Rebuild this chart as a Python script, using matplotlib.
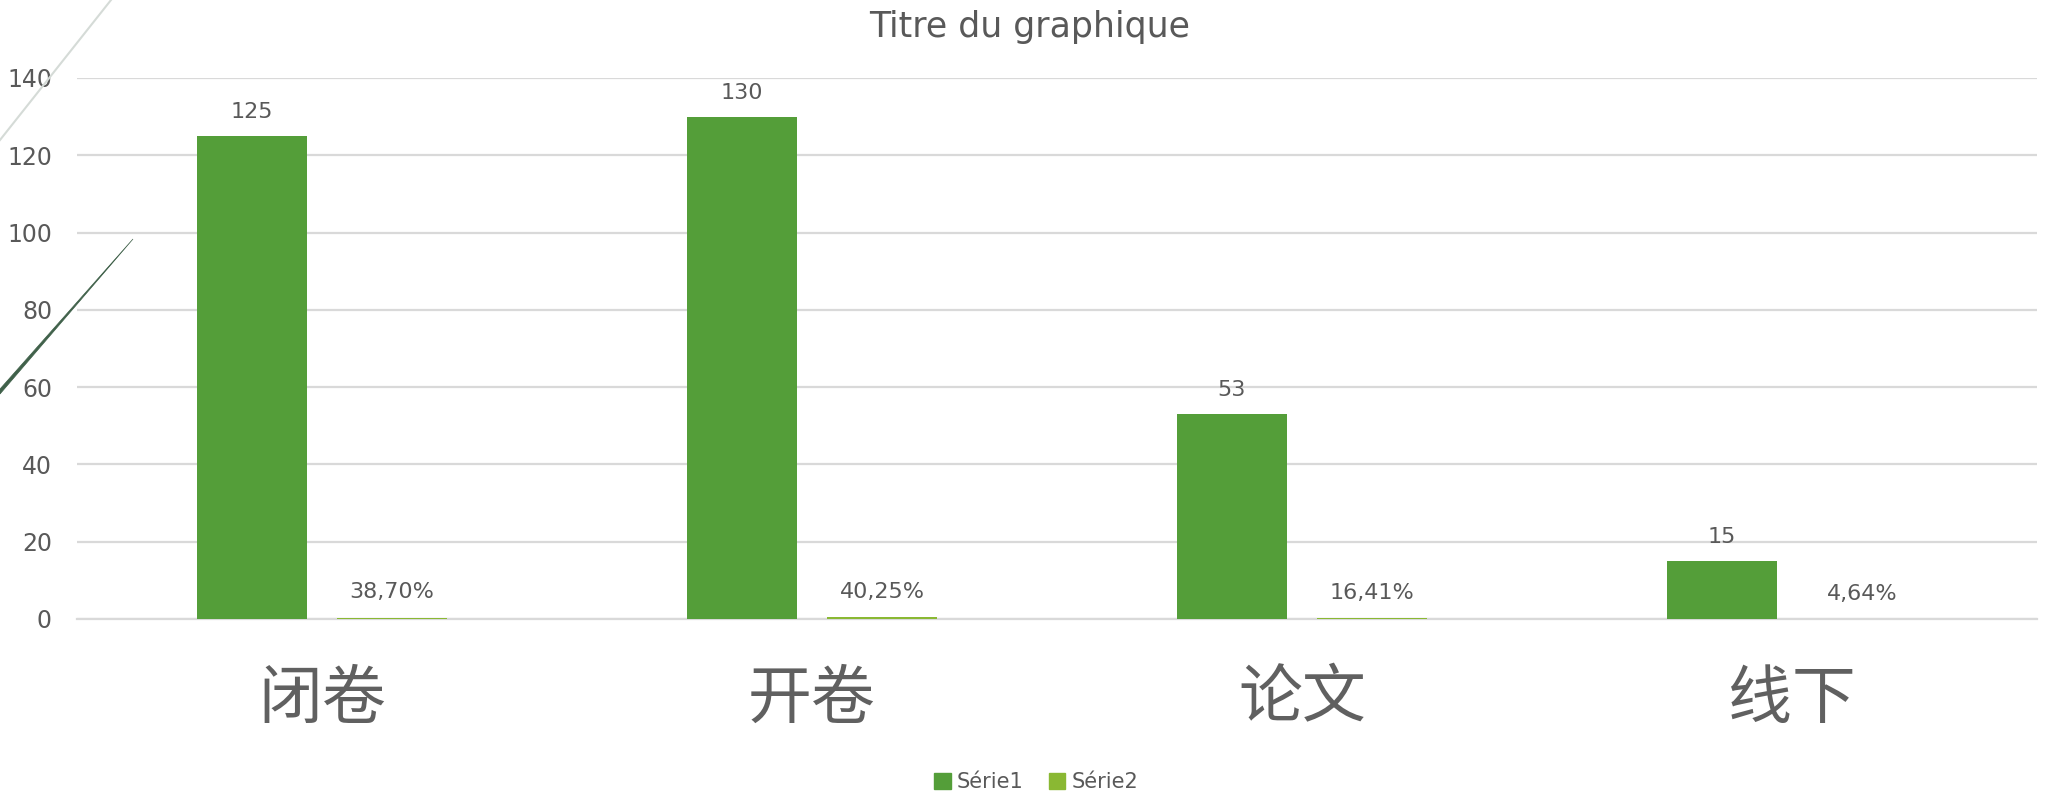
import matplotlib.pyplot as plt
from matplotlib.lines import Line2D
from matplotlib.patches import Polygon, Patch

categories = ["闭卷", "开卷", "论文", "线下"]
serie1 = [125, 130, 53, 15]
serie2 = [0.3870, 0.4025, 0.1641, 0.0464]

GREEN1 = "#549E39"
GREEN2 = "#8AB833"
TEXT = "#595959"
GRID = "#D9D9D9"

plt.rcParams['font.family'] = ['DejaVu Sans']

W, H = 2045, 796
fig = plt.figure(figsize=(W / 100, H / 100), dpi=100)
ax = fig.add_axes([77 / W, 1 - 619 / H, (2037 - 77) / W, (619 - 78) / H])

x = list(range(len(categories)))
width = 0.2245
off = 0.143
b1 = ax.bar([i - off for i in x], serie1, width, color=GREEN1, linewidth=0, zorder=3)
b2 = ax.bar([i + off for i in x], serie2, width, color=GREEN2, linewidth=0, zorder=3)

# data labels
for rect, v in zip(b1, serie1):
    ax.annotate(str(v), (rect.get_x() + rect.get_width() / 2, v),
                xytext=(0, 10), textcoords="offset points",
                ha="center", va="bottom", fontsize=16, color=TEXT)
for rect, v in zip(b2, serie2):
    lbl = f"{v * 100:.2f}%".replace(".", ",")
    ax.annotate(lbl, (rect.get_x() + rect.get_width() / 2, v),
                xytext=(0, 11), textcoords="offset points",
                ha="center", va="bottom", fontsize=16, color=TEXT)

ax.set_xlim(-0.5, len(categories) - 0.5)
ax.set_ylim(0, 140)
ax.set_yticks(range(0, 141, 20))
ax.yaxis.grid(True, color=GRID, linewidth=1.6, zorder=0)
ax.tick_params(axis="y", length=0, labelsize=17, labelcolor=TEXT, pad=18)
ax.set_xticks(x)
ax.set_xticklabels(categories, fontsize=46, color="#606060",
                   family=['Noto Sans CJK SC', 'DejaVu Sans'], fontweight='light')
ax.tick_params(axis="x", length=0, pad=34)
for s in ["top", "right", "left"]:
    ax.spines[s].set_visible(False)
ax.spines["bottom"].set_color(GRID)
ax.spines["bottom"].set_linewidth(1.6)

fig.text(1030 / W, 1 - 27 / H, "Titre du graphique", ha="center", va="center",
         fontsize=25, color=TEXT)

handles = [Patch(color=GREEN1), Patch(color=GREEN2)]
fig.legend(handles, ["Série1", "Série2"], loc="center", bbox_to_anchor=(1036 / W, 1 - 782 / H),
           ncol=2, frameon=False, fontsize=15, labelcolor=TEXT,
           handlelength=0.8, handleheight=0.8, handletextpad=0.3, columnspacing=1.2)

# decorative lines at top left
fig.add_artist(Line2D([111 / W, 0], [1, 1 - 140 / H], color="#D5DBD7", linewidth=1.5))
fig.add_artist(Polygon([(133 / W, 1 - 239 / H), (0, 1 - 389 / H), (0, 1 - 394 / H)],
                       closed=True, color="#3F6049", linewidth=0.5))

fig.savefig("out.png", dpi=100)
